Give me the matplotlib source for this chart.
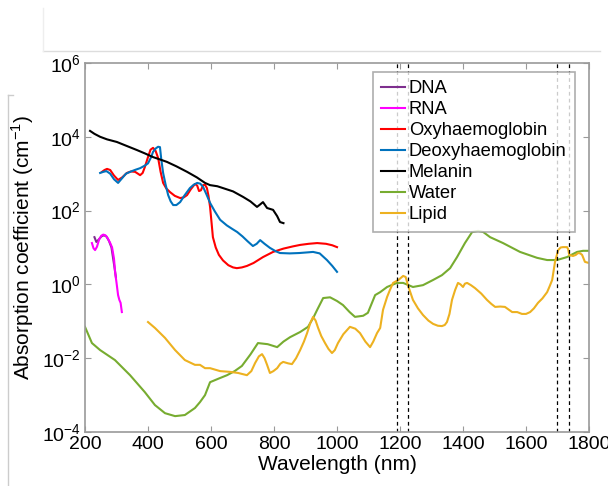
import numpy as np
import matplotlib.pyplot as plt
from matplotlib.lines import Line2D

plt.rcParams['font.family'] = ['Liberation Sans', 'DejaVu Sans']
plt.rcParams['mathtext.fontset'] = 'custom'
plt.rcParams['mathtext.rm'] = 'Liberation Sans'

# --- donnees (log10 du coefficient d'absorption) ---
dna_nm = [230, 236, 244, 252, 260, 268, 276, 284, 292, 298]
dna_log = [1.28, 1.15, 1.22, 1.30, 1.33, 1.30, 1.18, 1.00, 0.55, 0.20]

rna_nm = [222, 227, 232, 238, 245, 252, 258, 265, 272, 280, 286, 292, 296, 300, 305, 309, 313, 317]
rna_log = [1.12, 0.98, 0.93, 1.02, 1.22, 1.32, 1.35, 1.33, 1.25, 1.12, 1.00, 0.70, 0.30, 0.05, -0.29, -0.42, -0.50, -0.75]

oxy_nm = [254, 262, 270, 280, 292, 305, 318, 333, 346, 359, 368, 375, 383, 390, 400, 408, 416, 424, 432, 440,
          448, 458, 470, 485, 502, 514, 524, 536, 549, 556, 562, 568, 575, 581, 587, 592, 597, 602, 606, 615,
          625, 638, 655, 670, 682, 698, 714, 735, 765, 797, 830, 860, 883, 910, 937, 965, 985, 1000]
oxy_log = [3.05, 3.10, 3.13, 3.10, 2.95, 2.83, 2.90, 3.02, 3.06, 3.05, 3.00, 2.96, 3.02, 3.18, 3.45, 3.65, 3.70,
           3.62, 3.43, 3.05, 2.75, 2.60, 2.50, 2.40, 2.34, 2.36, 2.42, 2.58, 2.72, 2.68, 2.53, 2.55, 2.69, 2.70,
           2.61, 2.40, 2.10, 1.65, 1.28, 1.00, 0.80, 0.65, 0.52, 0.46, 0.44, 0.46, 0.50, 0.58, 0.74, 0.88, 0.97,
           1.03, 1.07, 1.10, 1.12, 1.10, 1.06, 1.01]

deoxy_nm = [248, 258, 268, 280, 292, 305, 318, 330, 343, 358, 375, 390, 400, 410, 416, 424, 432, 438, 442, 448,
            456, 464, 472, 480, 490, 502, 515, 533, 545, 556, 566, 575, 585, 597, 612, 629, 650, 668, 683, 700,
            716, 733, 745, 756, 770, 787, 805, 819, 850, 880, 910, 924, 945, 968, 985, 1000]
deoxy_log = [3.02, 3.05, 3.07, 3.00, 2.85, 2.75, 2.88, 3.00, 3.05, 3.10, 3.15, 3.22, 3.28, 3.45, 3.59, 3.68,
             3.73, 3.72, 3.40, 3.02, 2.70, 2.42, 2.25, 2.15, 2.15, 2.23, 2.40, 2.61, 2.70, 2.75, 2.73, 2.64,
             2.45, 2.21, 1.98, 1.75, 1.60, 1.50, 1.42, 1.30, 1.17, 1.04, 1.10, 1.20, 1.10, 0.99, 0.90, 0.85,
             0.84, 0.85, 0.87, 0.88, 0.84, 0.66, 0.50, 0.34]

mel_nm = [216, 230, 248, 270, 301, 330, 365, 390, 416, 440, 460, 490, 524, 555, 581, 597, 620, 638, 670, 702,
          725, 746, 755, 765, 778, 797, 810, 819, 830]
mel_log = [4.16, 4.08, 4.00, 3.93, 3.86, 3.76, 3.64, 3.55, 3.45, 3.38, 3.32, 3.20, 3.05, 2.90, 2.75, 2.69,
           2.66, 2.61, 2.52, 2.37, 2.25, 2.10, 2.16, 2.23, 2.07, 2.02, 1.85, 1.69, 1.66]

water_nm = [200, 222, 248, 295, 343, 390, 422, 454, 486, 517, 549, 565, 581, 597, 625, 651, 675, 698, 725, 749,
            780, 810, 830, 851, 883, 908, 925, 937, 956, 978, 1000, 1019, 1040, 1057, 1083, 1098, 1121, 1137,
            1159, 1190, 1210, 1241, 1273, 1305, 1333, 1359, 1381, 1406, 1429, 1448, 1464, 1486, 1527, 1581,
            1635, 1667, 1698, 1730, 1762, 1781, 1800]
water_log = [-1.15, -1.59, -1.78, -2.05, -2.46, -2.92, -3.27, -3.49, -3.57, -3.54, -3.35, -3.19, -3.00, -2.65,
             -2.55, -2.46, -2.35, -2.21, -1.90, -1.59, -1.62, -1.70, -1.55, -1.43, -1.29, -1.15, -0.90, -0.69,
             -0.37, -0.35, -0.45, -0.56, -0.75, -0.88, -0.85, -0.77, -0.29, -0.21, -0.07, 0.04, 0.04, -0.07,
             -0.02, 0.12, 0.25, 0.44, 0.74, 1.12, 1.42, 1.45, 1.42, 1.28, 1.12, 0.88, 0.72, 0.66, 0.66, 0.74,
             0.88, 0.91, 0.91]

lipid_nm = [400, 422, 454, 486, 517, 549, 565, 581, 597, 629, 660, 686, 714, 728, 740, 752, 762, 770, 778, 787,
            798, 810, 820, 829, 845, 857, 870, 883, 895, 905, 915, 924, 932, 940, 950, 962, 973, 984, 993, 1003,
            1020, 1041, 1058, 1073, 1090, 1105, 1115, 1127, 1137, 1146, 1159, 1168, 1178, 1195, 1210, 1218,
            1225, 1241, 1257, 1273, 1290, 1305, 1320, 1333, 1342, 1349, 1357, 1365, 1375, 1384, 1392, 1400,
            1406, 1413, 1425, 1438, 1458, 1476, 1490, 1502, 1518, 1533, 1556, 1572, 1587, 1600, 1613, 1625,
            1638, 1652, 1667, 1675, 1683, 1692, 1702, 1710, 1717, 1730, 1734, 1737, 1749, 1758, 1765, 1772,
            1778, 1787, 1800]
lipid_log = [-1.02, -1.18, -1.45, -1.78, -2.05, -2.18, -2.18, -2.27, -2.27, -2.35, -2.37, -2.40, -2.46,
             -2.35, -2.13, -1.95, -1.89, -2.00, -2.18, -2.40, -2.35, -2.27, -2.15, -2.10, -2.14, -2.16, -2.00,
             -1.78, -1.55, -1.32, -1.05, -0.88, -0.98, -1.18, -1.40, -1.59, -1.75, -1.86, -1.78, -1.59, -1.35,
             -1.15, -1.20, -1.32, -1.55, -1.70, -1.55, -1.32, -1.18, -0.69, -0.34, -0.15, 0.04, 0.12, 0.23,
             0.20, -0.02, -0.42, -0.65, -0.83, -0.98, -1.07, -1.12, -1.13, -1.10, -1.02, -0.80, -0.42, -0.15,
             0.04, 0.00, -0.07, 0.02, 0.04, -0.02, -0.10, -0.25, -0.42, -0.53, -0.61, -0.60, -0.61, -0.75,
             -0.75, -0.80, -0.80, -0.75, -0.65, -0.50, -0.38, -0.21, -0.05, 0.12, 0.61, 0.93, 1.00, 1.01, 1.01,
             0.95, 0.80, 0.77, 0.80, 0.85, 0.84, 0.80, 0.61, 0.58]

# lignes verticales en pointilles
dashed_nm = [1190, 1225, 1698, 1737]

labels = ['DNA', 'RNA', 'Oxyhaemoglobin', 'Deoxyhaemoglobin', 'Melanin', 'Water', 'Lipid']
colors = ['#7E2F8E', '#FF00FF', '#FF0000', '#0072BD', '#000000', '#77AC30', '#EDB120']

series = [(dna_nm, dna_log), (rna_nm, rna_log), (oxy_nm, oxy_log), (deoxy_nm, deoxy_log),
          (mel_nm, mel_log), (water_nm, water_log), (lipid_nm, lipid_log)]

fig = plt.figure(figsize=(6.08, 4.86), dpi=100)
ax = fig.add_axes([0.1398, 0.1111, 0.8290, 0.7593])

for (x, y), lab, c in zip(series, labels, colors):
    ax.semilogy(x, 10 ** np.array(y), color=c, lw=1.5, label=lab)

for xv in dashed_nm:
    ax.axvline(xv, color='black', ls=(0, (3, 2.5)), lw=0.9)

ax.set_xlim(200, 1800)
ax.set_ylim(1e-4, 1e6)
ax.set_xticks(range(200, 1801, 200))
yt = [1e-4, 1e-2, 1e0, 1e2, 1e4, 1e6]
ax.set_yticks(yt)
ax.set_yticklabels([r'$\mathregular{10^{%d}}$' % int(np.log10(v)) for v in yt])
ax.minorticks_off()
ax.tick_params(direction='in', top=True, right=True, length=4, width=0.8,
               color='#9a9a9a', labelsize=14, pad=3)
for s in ax.spines.values():
    s.set_color('#9a9a9a')
    s.set_linewidth(1.2)

ax.set_xlabel('Wavelength (nm)', fontsize=15, labelpad=1)
ax.set_ylabel(r'Absorption coefficient (cm$^{\mathregular{-1}}$)', fontsize=15, labelpad=4)

leg = ax.legend(loc='upper right', bbox_to_anchor=(0.972, 0.976), fontsize=13.2, frameon=True,
                fancybox=False, handlelength=1.3, handletextpad=0.2, labelspacing=0.22,
                borderpad=0.45, borderaxespad=0)
leg.get_frame().set_edgecolor('#9a9a9a')
leg.get_frame().set_linewidth(1.2)

# traits gris de la capture d'ecran
fig.add_artist(Line2D([43 / 608, 600 / 608], [1 - 51 / 486, 1 - 51 / 486], color='#dddddd', lw=1))
fig.add_artist(Line2D([43 / 608, 43 / 608], [1 - 8 / 486, 1 - 51 / 486], color='#eeeeee', lw=1))
fig.add_artist(Line2D([8 / 608, 8 / 608], [0, 1 - 95 / 486], color='#cccccc', lw=1))
fig.add_artist(Line2D([8 / 608, 13 / 608], [1 - 95 / 486, 1 - 95 / 486], color='#cccccc', lw=1))

fig.savefig('out.png', dpi=100)
